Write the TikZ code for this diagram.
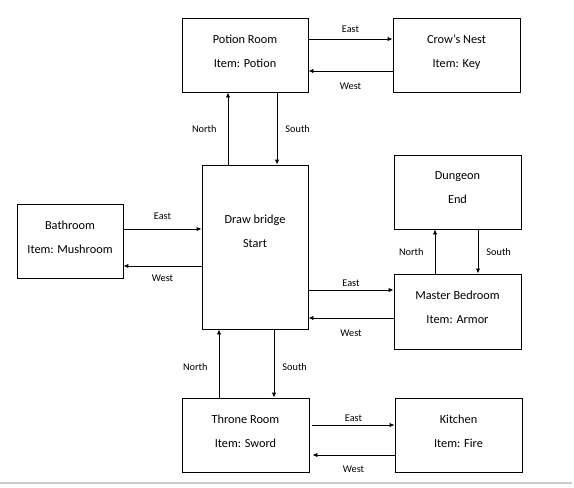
\documentclass[tikz,border=0pt]{standalone}
\usepackage{fontspec}
\setmainfont{Carlito}
\usepackage{tikz}
\usepackage{xcolor}
\usetikzlibrary{arrows.meta}
\definecolor{page-edge}{RGB}{204,204,204}
\tikzset{
    room-box/.style = {draw=black, line width=0.9pt, rectangle, minimum width=127pt, minimum height=74pt, inner sep=3pt, align=center, text depth=8pt, font=\fontsize{12.3}{24}\selectfont},
    exit-arrow/.style = {draw=black, line width=0.9pt, -{Latex[length=5pt,width=4.5pt]}},
    exit-label/.style = {font=\fontsize{10.3}{12}\selectfont, inner sep=3pt},
}

\begin{document}
\begin{tikzpicture}[x=1pt, y=-1pt]
\useasboundingbox (0,0) rectangle (574,488);
\node[room-box, minimum width=126pt] (potion) at (245,55) {Potion Room\\Item: Potion};
\node[room-box] (crow) at (456.5,55) {Crow's Nest\\Item: Key};
\node[room-box, minimum width=106pt] (bath) at (70,241) {Bathroom\\Item: Mushroom};
\node[room-box, minimum width=106pt, minimum height=164pt, text depth=32pt] (bridge) at (255,247) {Draw bridge\\Start};
\node[room-box] (dungeon) at (457.5,192) {Dungeon\\End};
\node[room-box, minimum height=75pt] (master) at (457.5,311.5) {Master Bedroom\\Item: Armor};
\node[room-box] (throne) at (245.5,435) {Throne Room\\Item: Sword};
\node[room-box] (kitchen) at (458.5,435) {Kitchen\\Item: Fire};

\draw[exit-arrow] ([yshift=16pt]potion.east) -- node[exit-label, above=3.3pt] {East} ([yshift=16pt]crow.west);
\draw[exit-arrow] ([yshift=-16pt]crow.west) -- node[exit-label, below=8.3pt] {West} ([yshift=-16pt]potion.east);

\draw[exit-arrow] ([yshift=12pt]bath.east) -- node[exit-label, above=6.3pt] {East} ([yshift=12pt]bath.east -| bridge.west);
\draw[exit-arrow] ([yshift=-25pt]bath.east -| bridge.west) -- node[exit-label, below=5.3pt] {West} ([yshift=-25pt]bath.east);

\draw[exit-arrow] ([yshift=21.5pt]master.west -| bridge.east) -- node[exit-label, above=0.3pt] {East} ([yshift=21.5pt]master.west);
\draw[exit-arrow] ([yshift=-6.5pt]master.west) -- node[exit-label, below=8.3pt] {West} ([yshift=-6.5pt]master.west -| bridge.east);

\draw[exit-arrow] ([xshift=3pt, yshift=10pt]throne.east) -- node[exit-label, above=0.3pt] {East} ([yshift=10pt]kitchen.west);
\draw[exit-arrow] ([yshift=-20pt]kitchen.west) -- node[exit-label, below=7.3pt] {West} ([xshift=3pt, yshift=-20pt]throne.east);

\draw[exit-arrow] ([xshift=-27pt]bridge.north) -- node[exit-label, left=8pt] {North} ([xshift=-27pt]bridge.north |- potion.south);
\draw[exit-arrow] ([xshift=22pt]bridge.north |- potion.south) -- node[exit-label, right=5pt] {South} ([xshift=22pt]bridge.north);

\draw[exit-arrow] ([xshift=-26.5pt]throne.north) -- node[exit-label, left=8pt, yshift=-3pt] {North} ([xshift=-26.5pt]throne.north |- bridge.south);
\draw[exit-arrow] ([xshift=28.5pt]throne.north |- bridge.south) -- node[exit-label, right=5pt, yshift=-3pt] {South} ([xshift=28.5pt]throne.north);

\draw[exit-arrow] ([xshift=-22.5pt]master.north) -- node[exit-label, left=8pt] {North} ([xshift=-22.5pt]master.north |- dungeon.south);
\draw[exit-arrow] ([xshift=20.5pt]master.north |- dungeon.south) -- node[exit-label, right=5pt] {South} ([xshift=20.5pt]master.north);

\draw[page-edge, line width=1.5pt] (0,483) -- (572,483);
\end{tikzpicture}
\end{document}
